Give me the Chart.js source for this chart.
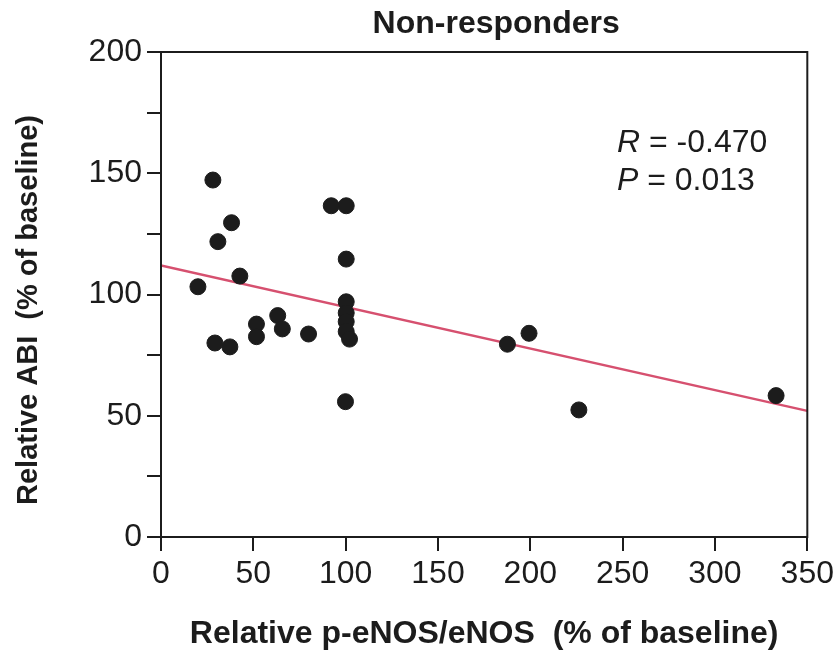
<!DOCTYPE html>
<html>

<head>
    <title>Non-responders</title>
    <script src="https://cdn.jsdelivr.net/npm/chart.js"></script>
    <style>
        body { margin: 0; background: #fff; }
        #wrap { width: 838px; height: 656px; }
    </style>
</head>

<body>
    <div id="wrap"><canvas id="scatterChart"></canvas></div>

    <script>
        // Values
        const pEnos = [20.0, 28.1, 29.2, 30.8, 38.2, 37.3, 42.7, 51.7, 51.7, 63.2, 65.7, 79.9,
            92.2, 100.3, 100.3, 100.3, 100.3, 100.3, 100.3, 102.1, 99.9,
            187.6, 199.3, 226.3, 333.1];
        const abi = [103.2, 147.2, 80.0, 121.8, 129.6, 78.4, 107.6, 87.8, 82.6, 91.3, 85.8, 83.7,
            136.6, 136.6, 114.6, 97.0, 92.4, 88.8, 84.7, 81.6, 55.8,
            79.5, 84.0, 52.4, 58.3];

        // regression line end points
        const fitX = [0, 350];
        const fitY = [112, 52];

        const xTicks = [0, 50, 100, 150, 200, 250, 300, 350];
        const yTicks = [0, 25, 50, 75, 100, 125, 150, 175, 200];

        const INK = '#1c1c1c';
        const FONT = "'Liberation Sans', Arial, sans-serif";

        // box, titles and R / P text
        const extras = {
            id: 'extras',
            afterDraw(chart) {
                const { ctx, chartArea: a } = chart;
                ctx.save();
                ctx.strokeStyle = INK;
                ctx.lineWidth = 2;
                ctx.strokeRect(a.left, a.top, a.right - a.left, a.bottom - a.top);

                ctx.fillStyle = INK;
                ctx.textBaseline = 'alphabetic';
                ctx.textAlign = 'center';
                ctx.font = 'bold 32px ' + FONT;
                ctx.fillText('Non-responders', (a.left + a.right) / 2 + 12, 33);

                // y axis title, a little below the plot centre as in the figure
                ctx.save();
                ctx.translate(29, 310);
                ctx.rotate(-Math.PI / 2);
                ctx.textBaseline = 'middle';
                ctx.font = 'bold 29px ' + FONT;
                ctx.fillText('Relative ABI  (% of baseline)', 0, 0);
                ctx.restore();

                ctx.textAlign = 'left';
                const lines = [['R', ' = -0.470', 152], ['P', ' = 0.013', 190]];
                lines.forEach(([sym, rest, y]) => {
                    ctx.font = 'italic 32px ' + FONT;
                    ctx.fillText(sym, 617, y);
                    const w = ctx.measureText(sym).width;
                    ctx.font = '32px ' + FONT;
                    ctx.fillText(rest, 617 + w, y);
                });
                ctx.restore();
            }
        };

        const ctx = document.getElementById('scatterChart').getContext('2d');
        const chart = new Chart(ctx, {
            type: 'scatter',
            data: {
                datasets: [
                    {
                        label: 'Patients',
                        data: pEnos.map((x, i) => ({ x: x, y: abi[i] })),
                        backgroundColor: INK,
                        borderColor: INK,
                        pointRadius: 8,
                        pointHoverRadius: 8,
                        order: 1
                    },
                    {
                        label: 'Fit',
                        type: 'line',
                        data: fitX.map((x, i) => ({ x: x, y: fitY[i] })),
                        borderColor: '#d6506f',
                        borderWidth: 2.5,
                        pointRadius: 0,
                        fill: false,
                        order: 2
                    }
                ]
            },
            options: {
                responsive: true,
                maintainAspectRatio: false,
                animation: false,
                layout: { padding: { top: 52, right: 29, left: 0, bottom: 0 } },
                plugins: {
                    legend: { display: false },
                    tooltip: { enabled: false }
                },
                scales: {
                    x: {
                        type: 'linear',
                        min: 0,
                        max: 350,
                        afterFit(s) { s.height = 119; },
                        afterBuildTicks(s) { s.ticks = xTicks.map(v => ({ value: v })); },
                        grid: { drawOnChartArea: false, color: INK, lineWidth: 2, tickLength: 14 },
                        border: { color: INK, width: 2 },
                        ticks: { color: INK, font: { family: FONT, size: 32 }, padding: 4, maxRotation: 0 },
                        title: {
                            display: true,
                            text: 'Relative p-eNOS/eNOS  (% of baseline)',
                            color: INK,
                            font: { family: FONT, size: 32, weight: 'bold' },
                            padding: { top: 0, bottom: 3 }
                        }
                    },
                    y: {
                        min: 0,
                        max: 200,
                        afterFit(s) { s.width = 161; },
                        afterBuildTicks(s) { s.ticks = yTicks.map(v => ({ value: v })); },
                        grid: { drawOnChartArea: false, color: INK, lineWidth: 2, tickLength: 14 },
                        border: { color: INK, width: 2 },
                        ticks: {
                            color: INK,
                            font: { family: FONT, size: 32 },
                            padding: 5,
                            callback: v => (v % 50 === 0 ? v : '')
                        },
                        title: { display: false }
                    }
                }
            },
            plugins: [extras]
        });
    </script>
</body>

</html>
